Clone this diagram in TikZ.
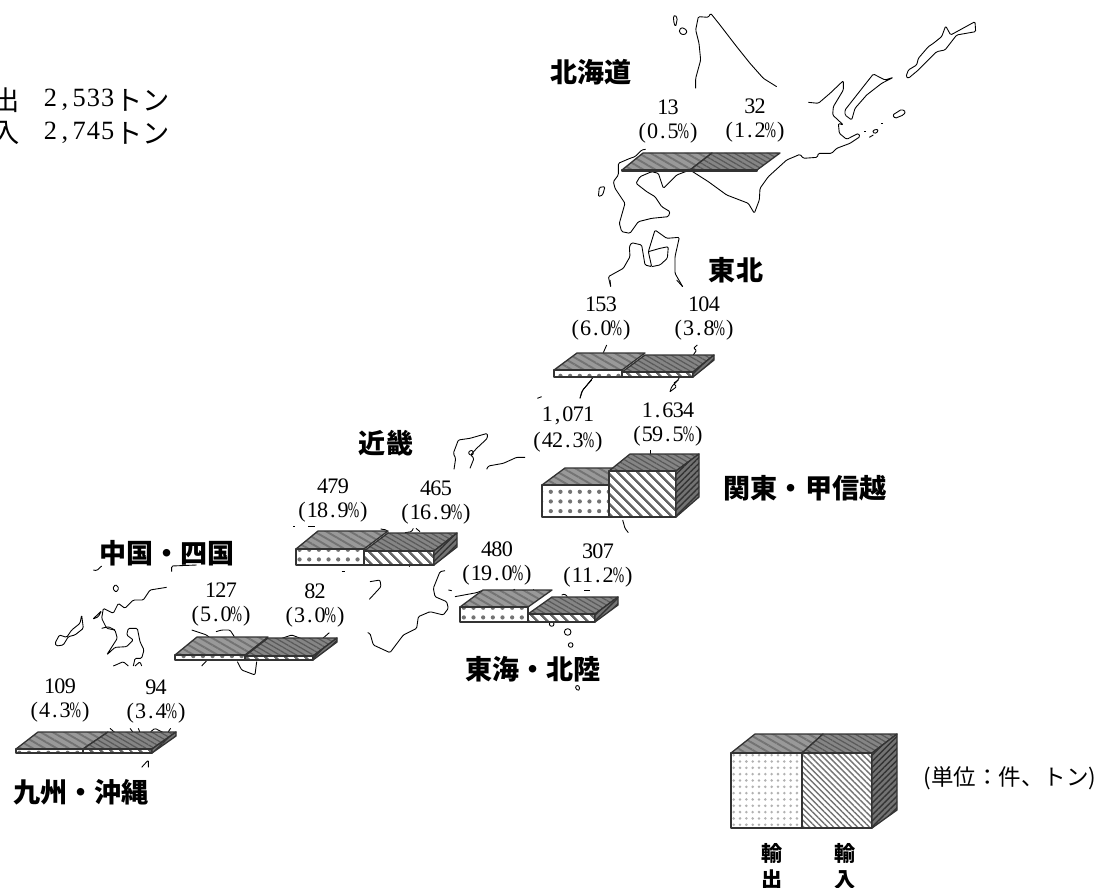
\documentclass[tikz,border=0pt]{standalone}
\usepackage{fontspec,graphicx}
\usetikzlibrary{patterns.meta}
\setmainfont{Liberation Serif}
\newfontfamily\jp{Noto Sans CJK JP}
\makeatletter
\newcommand\fw[1]{\@tfor\cc:=#1\do{\makebox[5.85pt][c]{\cc}}}
\newcommand\fwb[1]{\@tfor\cc:=#1\do{\makebox[8.15pt][c]{\cc}}}
\makeatother
\newcommand\pc{\scalebox{.62}[1]{\%}}
\tikzset{
 coast/.style={line width=.5pt,black,line join=round,rounded corners=.7pt},
 edge/.style={draw=black!80,line width=.75pt,line join=round},
 topE/.style={edge,preaction={fill=black!40},pattern={Lines[angle=-30,distance=3.4pt,line width=1.1pt]},pattern color=black!55},
 topI/.style={edge,preaction={fill=black!48},pattern={Lines[angle=-30,distance=2.4pt,line width=.7pt]},pattern color=black!65},
 frontE/.style={edge,preaction={fill=white},pattern={Dots[distance=5.5pt,radius=1.2pt]},pattern color=black!55},
 frontI/.style={edge,preaction={fill=white},pattern={Lines[angle=-45,distance=4pt,line width=1.4pt]},pattern color=black!60},
 frontEl/.style={edge,preaction={fill=white},pattern={Dots[distance=3.6pt,radius=.8pt]},pattern color=black!30},
 frontIl/.style={edge,preaction={fill=white},pattern={Lines[angle=-45,distance=2.4pt,line width=.8pt]},pattern color=black!55},
 sideI/.style={edge,preaction={fill=black!55},pattern={Lines[angle=45,distance=2.4pt,line width=.8pt]},pattern color=black!80},
 num/.style={inner sep=0pt,font=\fontsize{12.6}{13}\selectfont},
 reg/.style={inner sep=0pt,font=\jp\bfseries\fontsize{15.4}{17}\selectfont},
 small/.style={inner sep=0pt,font=\jp\fontsize{12.8}{13}\selectfont},
 legl/.style={inner sep=0pt,font=\jp\bfseries\fontsize{12}{13}\selectfont},
 big/.style={inner sep=0pt,font=\fontsize{15}{16}\selectfont},
 bigj/.style={inner sep=0pt,font=\jp\fontsize{15.5}{16}\selectfont},
}
% fl fr yfront ybottom bl br yback top-style front-style
\newcommand\pr[9]{%
 \path[#8] (#1,#3)--(#5,#7)--(#6,#7)--(#2,#3)--cycle;
 \path[#9] (#1,#3) rectangle (#2,#4);}
% side: fr yfront ybottom br yback ybackbottom
\newcommand\sd[6]{\path[sideI] (#1,#2)--(#4,#5)--(#4,#6)--(#1,#3)--cycle;}
\newcommand\lab[5]{%
 \node[num] (#1a) at (#2,#3) {\fw{#4}};
 \node[num] (#1b) at (#2,#3+26) {\fw{#5}};}
\begin{document}
\begin{tikzpicture}[x=0.02cm,y=-0.02cm]
\useasboundingbox (0,0) rectangle (1101,888);
% ---- coasts
\begin{scope}[shift={(580,0)},scale=1/3,coast]
\draw (280,50)--(285,45)--(292,55)--(287,80)--(282,70)--cycle;
\draw (298,90)--(305,82)--(320,90)--(320,100)--(308,105)--(298,97)--cycle;
\draw (347,265)--(347,235)--(362,180)--(357,130)--(347,90)--(355,50)--(385,52)--(392,40)--(420,75)--(470,140)--(510,190)--(550,235)--(590,260);
\draw (685,307)--(715,310)--(750,280)--(790,242)--(790,270)--(760,320)--(758,345)--(790,375)--(775,370)--(778,400)--(800,418)--(835,400)--(840,410)--(810,430)--(770,445)--(755,460)--(715,460)--(712,472)--(670,475)--(660,463)--(620,480)--(565,530)--(540,565)--(538,600)--(523,640)--(505,610)--(440,585)--(385,545)--(330,510)--(290,525)--(250,565)--(235,520)--(215,515)--(180,530)--(168,550)--(200,575)--(225,590)--(245,620)--(270,635)--(265,650)--(215,655)--(175,665)--(150,700)--(125,695)--(118,670)--(135,610)--(105,565)--(100,545)--(115,525)--(115,490)--(150,475)--(165,470)--(185,450)--(197,448);
\draw (795,330)--(850,260)--(880,222)--(915,240)--(940,232)--(905,250)--(860,285)--(825,325)--(815,360)--(795,345)--cycle;
\draw (978,230)--(985,210)--(1010,195)--(1015,175)--(1045,140)--(1060,130)--(1085,110)--(1097,78)--(1112,105)--(1185,65)--(1187,95)--(1130,105)--(1095,150)--(1070,155)--(1030,195)--(1015,210)--(985,235)--cycle;
\draw (938,345)--(965,328)--(977,335)--(970,345)--(945,355)--cycle;
\draw (880,390)--(895,388)--(890,400)--(878,398)--cycle;
\draw (853,393)--(858,393); \draw (903,370)--(908,370); \draw (868,412)--(880,405);
\draw (55,590)--(58,562)--(75,560)--(68,585)--cycle;
\draw (92,860)--(85,830)--(130,805)--(150,770)--(148,740)--(155,728)--(185,735)--(195,795)--(215,800)--(205,755)--(225,690)--(260,715)--(298,712)--(285,770)--(285,820)--(308,860);
\draw (205,755)--(240,745)--(265,740)--(262,775)--(240,795)--(215,800);
\end{scope}
\begin{scope}[shift={(540,280)},scale=1/3,coast]
\draw (190,218)--(200,195); \draw (210,0)--(212,18); \draw (410,0)--(428,20);
\draw (120,355)--(125,335)--(165,285);
\draw (460,225)--(470,210)--(460,205)--(472,195);
\draw (390,335)--(395,320)--(410,305)--(420,290);
\end{scope}
\begin{scope}[shift={(530,380)},scale=1/3,coast]
\draw (150,55)--(158,30)--(185,0);
\draw (420,35)--(440,20)--(430,10)--(445,0);
\draw (360,225)--(360,210);
\draw (278,420)--(285,445)--(295,458);
\draw (22,55)--(35,50);
\end{scope}
\begin{scope}[shift={(280,400)},scale=1/3,coast]
\draw (522,208)--(527,175)--(520,160)--(535,120)--(570,115)--(622,100)--(622,115)--(590,145)--(572,165)--(582,175)--(570,205);
\draw (565,155)--(578,150)--(580,165)--(568,165)--cycle;
\draw (620,208)--(625,198)--(670,190)--(710,172)--(735,172);
\draw (302,387)--(320,390)--(325,398);
\draw (375,398)--(395,395)--(400,385);
\draw (408,385)--(420,395);
\draw (270,545)--(300,540)--(303,560)--(268,598);
\draw (495,512)--(480,515)--(460,565)--(465,590)--(500,605)--(505,625)--(490,645)--(450,635)--(415,650)--(410,685)--(370,705)--(330,758)--(280,735)--(270,700)--(263,698);
\draw (505,570)--(515,572);
\draw (525,590)--(590,578)--(605,572);
\draw (40,380)--(45,380); \draw (85,380)--(105,380); \draw (185,515)--(195,515); \draw (388,500)--(390,495);
\draw (815,672) circle (7); \draw (863,696) circle (10); \draw (872,735) circle (7);
\draw (885,860)--(895,855)--(900,868)--(892,872)--cycle;
\draw (912,570)--(930,570);
\draw (845,585)--(855,582)--(862,590);
\draw (700,570)--(705,568); \draw (760,568)--(762,572);
\end{scope}
\begin{scope}[shift={(0,540)},scale=1/3,coast]
\draw (280,90)--(290,92)--(305,78);
\draw (515,95)--(515,78)--(590,75);
\draw (338,145)--(347,133)--(357,145)--(348,157)--cycle;
\draw (500,142)--(450,150)--(430,180)--(400,180)--(375,205)--(355,190)--(340,220)--(310,205)--(305,235)--(320,265)--(345,270)--(352,295)--(320,345)--(345,322)--(380,320)--(400,300)--(380,285)--(385,265)--(412,265)--(420,305)--(432,330)--(425,355)--(405,355)--(400,378);
\draw (278,238)--(305,212)--(295,230)--cycle;
\draw (305,265)--(325,260)--(345,270);
\draw (165,310)--(178,285)--(200,292)--(215,270)--(240,250)--(245,225)--(250,265)--(225,285)--(205,290)--(190,315)--(170,318)--cycle;
\draw (340,378)--(370,365)--(385,378);
\draw (405,378)--(420,365)--(425,378);
\draw (575,270)--(620,285)--(628,292);
\draw (648,275)--(665,270)--(690,270)--(703,290);
\draw (845,295)--(875,285)--(910,298);
\draw (965,298)--(988,278);
\draw (605,378)--(620,362);
\draw (712,365)--(725,390)--(765,405)--(770,365);
\draw (330,565)--(345,578); \draw (390,565)--(400,578); \draw (415,565)--(420,578);
\draw (452,575)--(465,565)--(490,578); \draw (505,575)--(512,565);
\draw (425,682)--(445,660)--(445,682);
\end{scope}
% ---- prisms
% Hokkaido
\pr{622}{690}{170}{171}{643}{712}{153}{topE}{frontE}
\pr{690}{757}{170}{171}{712}{780}{153}{topI}{frontI}
% Tohoku
\pr{554}{622}{370}{377}{577}{645}{353}{topE}{frontE}
\pr{622}{693}{372}{377}{645}{714}{355}{topI}{frontI}
\sd{693}{372}{377}{714}{355}{360}
% Kanto
\pr{542}{609}{485}{517}{565}{632}{468}{topE}{frontE}
\pr{609}{676}{471}{517}{630}{699}{454}{topI}{frontI}
\sd{676}{471}{517}{699}{454}{497}
% Kinki
\pr{296}{364}{549}{565}{318}{388}{531}{topE}{frontE}
\pr{364}{434}{551}{565}{388}{457}{533}{topI}{frontI}
\sd{434}{551}{565}{457}{533}{547}
% Tokai
\pr{460}{528}{607}{622}{483}{552}{590}{topE}{frontE}
\pr{528}{595}{614}{622}{552}{618}{597}{topI}{frontI}
\sd{595}{614}{622}{618}{597}{605}
% Chugoku
\pr{175}{245}{655}{660}{197}{268}{637}{topE}{frontE}
\pr{245}{313}{656}{660}{268}{337}{638}{topI}{frontI}
\sd{313}{656}{660}{337}{638}{642}
% Kyushu
\pr{16}{83}{749}{753}{38}{108}{732}{topE}{frontE}
\pr{83}{152}{749}{753}{108}{176}{732}{topI}{frontI}
\sd{152}{749}{753}{176}{732}{736}
% Legend
\pr{731}{802}{753}{828}{755}{823}{734}{topE}{frontEl}
\pr{802}{872}{753}{828}{823}{897}{734}{topI}{frontIl}
\sd{872}{753}{828}{897}{734}{810}
% ---- numbers
\lab{hE}{668}{107}{13}{(0.5\pc)}
\lab{hI}{755}{106}{32}{(1.2\pc)}
\lab{tE}{601}{304}{153}{(6.0\pc)}
\lab{tI}{704}{304}{104}{(3.8\pc)}
\lab{kE}{568}{416}{1,071}{(42.3\pc)}
\lab{kI}{668}{410}{1.634}{(59.5\pc)}
\lab{nE}{333}{486}{479}{(18.9\pc)}
\lab{nI}{436}{488}{465}{(16.9\pc)}
\lab{aE}{497}{549}{480}{(19.0\pc)}
\lab{aI}{598}{551}{307}{(11.2\pc)}
\lab{cE}{221}{590}{127}{(5.0\pc)}
\lab{cI}{315}{591}{82}{(3.0\pc)}
\lab{qE}{60}{686}{109}{(4.3\pc)}
\lab{qI}{156}{687}{94}{(3.4\pc)}
% ---- region names
\node[reg] (rh) at (591,72) {北海道};
\node[reg] (rt) at (736,270) {東北};
\node[reg] (rk) at (805,488) {関東・甲信越};
\node[reg] (rn) at (386,443) {近畿};
\node[reg] (rc) at (167,553) {中国・四国};
\node[reg] (ra) at (533,669) {東海・北陸};
\node[reg] (rq) at (81,792) {九州・沖縄};
% ---- totals
\node[bigj,anchor=east] (te0) at (20,100) {出};
\node[bigj,anchor=east] (ti0) at (20,133) {入};
\node[big,anchor=west] (te) at (43,100) {\fwb{2,533}};
\node[big,anchor=west] (ti) at (43,133) {\fwb{2,745}};
\node[bigj,anchor=west] (tu) at (115,100) {トン};
\node[bigj,anchor=west] (tv) at (115,133) {トン};
% ---- legend text
\node[small] (u) at (1010,778) {(単位：件、トン)};
\node[legl] (l1) at (772,853) {輸};
\node[legl] (l2) at (772,880) {出};
\node[legl] (l3) at (845,853) {輸};
\node[legl] (l4) at (845,880) {入};
\end{tikzpicture}
\end{document}
